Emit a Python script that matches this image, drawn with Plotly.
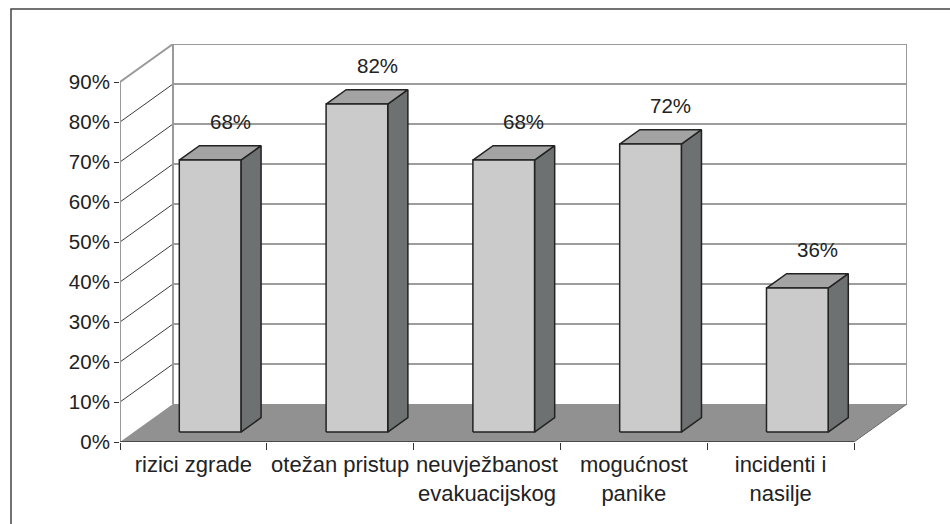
import plotly.graph_objects as go

# ---------------- data ----------------
categories = ["rizici zgrade", "otežan pristup", "neuvježbanost<br>evakuacijskog",
              "mogućnost<br>panike", "incidenti i<br>nasilje"]
values = [68, 82, 68, 72, 36]
y_ticks = [0, 10, 20, 30, 40, 50, 60, 70, 80, 90]
y_tick_labels = [f"{v}%" for v in y_ticks]
value_labels = [f"{v}%" for v in values]

# ---------------- 3D projection (oblique) ----------------
DX = 0.361      # depth offset in category units
DY = 9.5        # depth offset in value units
N = len(categories)
YMAX = y_ticks[-1]
BAR_X0, BAR_X1 = 0.31, 0.73     # bar extent within a category slot
T0, T1 = 0.26, 0.64             # bar depth extent (0 = front, 1 = back)

FONT = "Liberation Sans, Arial, Helvetica, sans-serif"
FRONT_C = "#cbcbcb"
SIDE_C = "#6d7171"
TOP_C = "#a3a3a3"
FLOOR_C = "#919191"
EDGE_C = "#222222"
WALL_C = "#9a9a9a"
GRID_C = "#3a3a3a"


def P(x, y, t):
    return x + t * DX, y + t * DY


def poly(points):
    xs, ys = [], []
    for (x, y, t) in points:
        px, py = P(x, y, t)
        xs.append(px)
        ys.append(py)
    xs.append(xs[0])
    ys.append(ys[0])
    return xs, ys


def seg(a, b):
    (x0, y0), (x1, y1) = P(*a), P(*b)
    return [x0, x1, None], [y0, y1, None]


fig = go.Figure()

# floor
fx, fy = poly([(0, 0, 0), (N, 0, 0), (N, 0, 1), (0, 0, 1)])
fig.add_trace(go.Scatter(x=fx, y=fy, fill="toself", fillcolor=FLOOR_C, mode="lines",
                         line=dict(width=0), hoverinfo="skip", showlegend=False))

# grid lines on left wall (diagonal) and back wall (horizontal)
gx, gy = [], []
bx, by = [], []
for v in y_ticks[1:-1]:
    a, b = seg((0, v, 0), (0, v, 1))
    gx += a; gy += b
    a, b = seg((0, v, 1), (N, v, 1))
    bx += a; by += b
fig.add_trace(go.Scatter(x=gx, y=gy, mode="lines", line=dict(color=GRID_C, width=1),
                         hoverinfo="skip", showlegend=False))
fig.add_trace(go.Scatter(x=bx, y=by, mode="lines", line=dict(color=GRID_C, width=1),
                         hoverinfo="skip", showlegend=False))

# wall outlines
wx, wy = [], []
for a, b in [((0, 0, 1), (0, YMAX, 1)), ((0, YMAX, 1), (N, YMAX, 1)), ((N, YMAX, 1), (N, 0, 1)),
             ((0, 0, 0), (0, YMAX, 0)), ((0, YMAX, 0), (0, YMAX, 1))]:
    sx, sy = seg(a, b)
    wx += sx; wy += sy
fig.add_trace(go.Scatter(x=wx, y=wy, mode="lines", line=dict(color=WALL_C, width=2),
                         hoverinfo="skip", showlegend=False))

# floor front edge (category axis line)
ex, ey = seg((0, 0, 0), (N, 0, 0))
fig.add_trace(go.Scatter(x=ex, y=ey, mode="lines", line=dict(color="#333333", width=1.5),
                         hoverinfo="skip", showlegend=False))
rx, ry = seg((N, 0, 0), (N, 0, 1))
fig.add_trace(go.Scatter(x=rx, y=ry, mode="lines", line=dict(color="#6a6a6a", width=1),
                         hoverinfo="skip", showlegend=False))

# bars
front_x, front_y, side_x, side_y, top_x, top_y = [], [], [], [], [], []
for i, v in enumerate(values):
    x0, x1 = i + BAR_X0, i + BAR_X1
    px, py = poly([(x0, 0, T0), (x1, 0, T0), (x1, v, T0), (x0, v, T0)])
    front_x += px + [None]; front_y += py + [None]
    px, py = poly([(x1, 0, T0), (x1, 0, T1), (x1, v, T1), (x1, v, T0)])
    side_x += px + [None]; side_y += py + [None]
    px, py = poly([(x0, v, T0), (x1, v, T0), (x1, v, T1), (x0, v, T1)])
    top_x += px + [None]; top_y += py + [None]

for xs, ys, col in [(side_x, side_y, SIDE_C), (top_x, top_y, TOP_C), (front_x, front_y, FRONT_C)]:
    fig.add_trace(go.Scatter(x=xs, y=ys, fill="toself", fillcolor=col, mode="lines",
                             line=dict(color=EDGE_C, width=1.5), hoverinfo="skip",
                             showlegend=False))

# value labels
for i, (v, lab) in enumerate(zip(values, value_labels)):
    cx = i + (BAR_X0 + BAR_X1) / 2
    lx, _ = P(cx, v, T1)
    _, ly = P(cx, v, T0)
    fig.add_annotation(x=lx, y=ly, text=lab, showarrow=False, xref="x", yref="y",
                       yanchor="middle", xanchor="center", yshift=39,
                       font=dict(family=FONT, size=20.5, color="#222222"))

# outer chart frame
fig.add_shape(type="rect", xref="paper", yref="paper",
              x0=-0.1385, x1=1.07, y0=-0.3, y1=1.088,
              line=dict(color="#444444", width=1.5), fillcolor="rgba(0,0,0,0)", layer="below")

fig.update_layout(
    width=950, height=524,
    margin=dict(l=120, r=43, t=44, b=82),
    paper_bgcolor="white", plot_bgcolor="white",
    showlegend=False,
    xaxis=dict(range=[0, N + DX], showgrid=False, zeroline=False, showline=False,
               tickmode="array", tickvals=[i + 0.5 for i in range(N)], ticktext=categories,
               ticks="", automargin=False, ticklabelstandoff=7,
               tickfont=dict(family=FONT, size=22, color="#222222"),
               minor=dict(tickmode="array", tickvals=list(range(N + 1)), ticks="outside",
                          ticklen=7, tickcolor="#333333", tickwidth=1, showgrid=False),
               fixedrange=True),
    yaxis=dict(range=[0, YMAX + DY], showgrid=False, zeroline=False, showline=False,
               tickmode="array", tickvals=y_ticks, ticktext=y_tick_labels,
               ticks="outside", ticklen=5, tickcolor="#333333", tickwidth=1,
               automargin=False, tickfont=dict(family=FONT, size=20.5, color="#222222"),
               fixedrange=True),
)

fig.write_html("out.html", config={"displayModeBar": False},
               post_script="document.body.style.margin='0px';document.body.style.overflow='hidden';")
